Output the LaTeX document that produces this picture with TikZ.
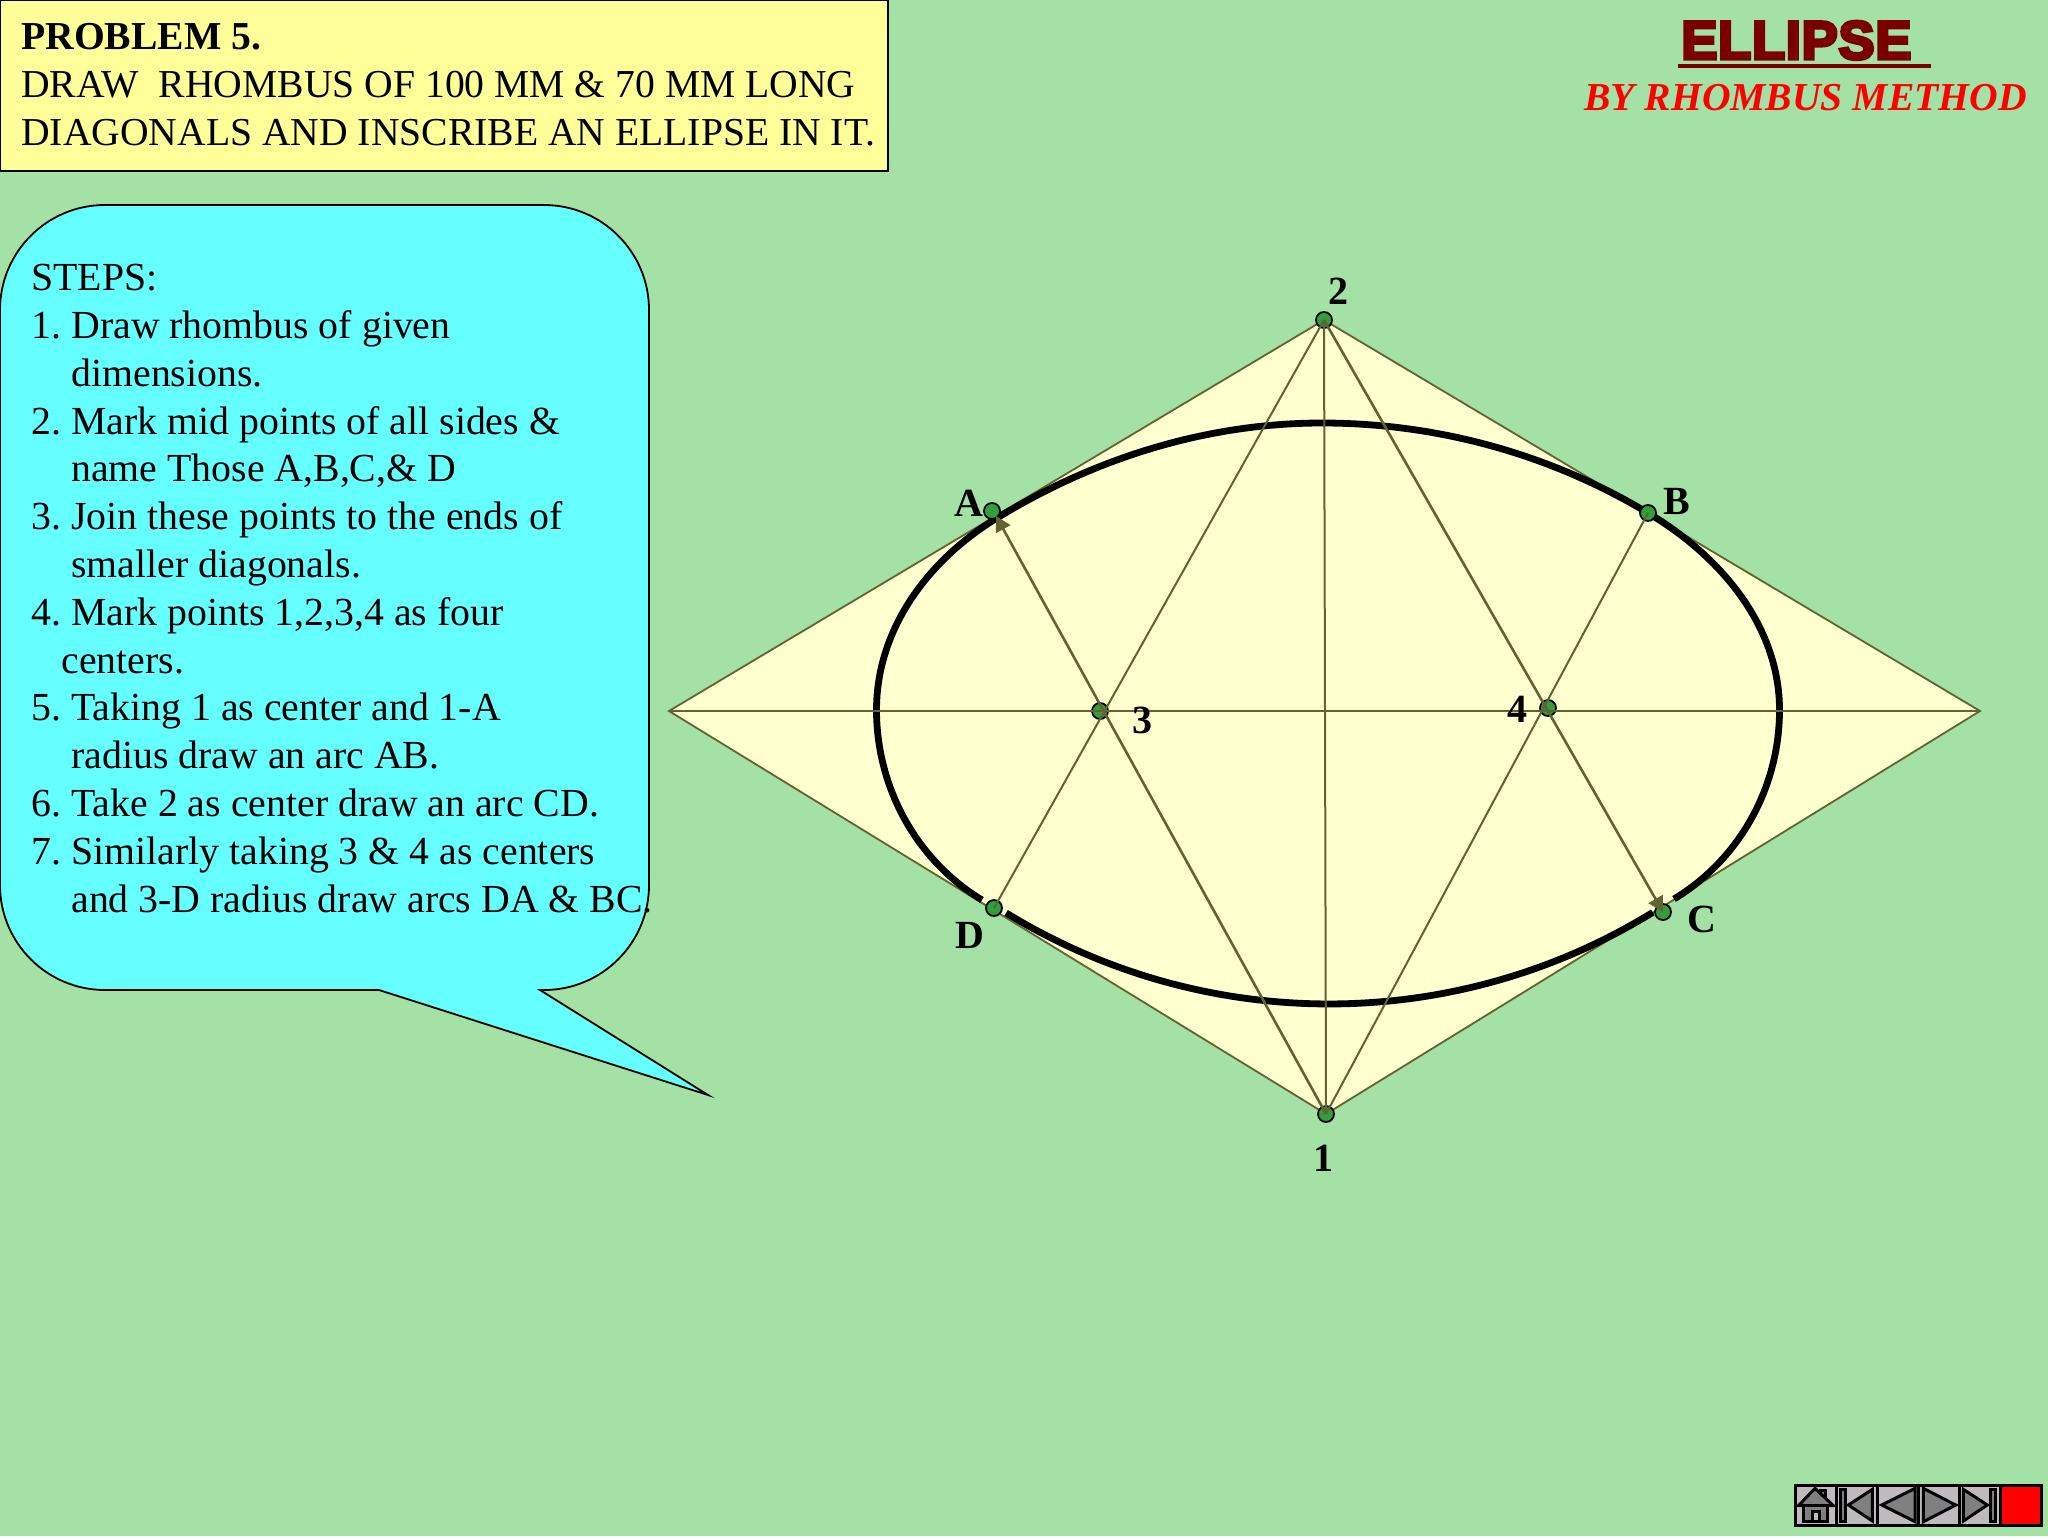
\documentclass[tikz,border=0pt]{standalone}
\usepackage{fontspec}
\setmainfont{Liberation Serif}
\newfontfamily\headsans[FakeBold=6,LetterSpace=1.5]{Liberation Sans Bold}
\usetikzlibrary{arrows.meta}
\definecolor{bgc}{RGB}{163,225,165}
\definecolor{paleY}{RGB}{255,255,208}
\definecolor{titleY}{RGB}{255,255,153}
\definecolor{cyanC}{RGB}{102,255,255}
\definecolor{oliveC}{RGB}{98,98,50}
\definecolor{dotG}{RGB}{51,158,60}
\definecolor{darkR}{RGB}{122,0,0}
\definecolor{btnG}{RGB}{190,186,190}
\definecolor{triG}{RGB}{128,128,128}
\newcommand{\stepnum}[1]{\makebox[20pt][l]{#1}}
\tikzset{
  x=0.5pt,y=0.5pt,
  thinline/.style={draw=oliveC,line width=1pt},
  heavyarc/.style={draw=black,line width=3.4pt},
  ptdot/.style={circle,draw=black,fill=dotG,line width=0.9pt,minimum size=8pt,inner sep=0pt},
  ptlabel/.style={font=\fontsize{20}{24}\selectfont\bfseries,inner sep=0pt},
  tipline/.style={draw=oliveC,line width=1.3pt,-{Triangle[length=7.5pt,width=8pt]}},
  btn/.style={draw=black,fill=btnG,line width=1.5pt},
  btntri/.style={draw=black,fill=triG,line width=1.5pt,line join=miter},
}
\begin{document}
\begin{tikzpicture}
\useasboundingbox (0,0) rectangle (2048,-1536);
\fill[bgc] (0,0) rectangle (2048,-1536);

% title box
\draw[fill=titleY,draw=black,line width=0.9pt] (0,0) rectangle (888,-171);
\node[name=titletext,anchor=north west,align=left,inner sep=0pt,font=\fontsize{19.8}{23.9}\selectfont] at (21,-23)
 {\textbf{PROBLEM 5.}\\DRAW\ \ RHOMBUS OF 100 MM \& 70 MM LONG\\DIAGONALS AND INSCRIBE AN ELLIPSE IN IT.};

% heading
\node[name=headmain,anchor=base west,inner sep=0pt,text=darkR,font=\fontsize{27}{30}\headsans] at (1681,-59) {ELLIPSE};
\draw[darkR,line width=1.6pt] (1678,-66) -- (1931,-66);
\node[name=headsub,anchor=base east,inner sep=0pt,text=red,font=\fontsize{19.8}{24}\selectfont\bfseries\itshape] at (2027,-111) {BY RHOMBUS METHOD};

% callout
\draw[fill=cyanC,draw=black,line width=0.9pt]
  (105,-205) -- (544,-205) arc[start angle=90,end angle=0,radius=105]
  -- (649,-885) arc[start angle=0,end angle=-90,radius=105]
  -- (540,-990) -- (708,-1095) -- (379,-990) -- (105,-990)
  arc[start angle=270,end angle=180,radius=105]
  -- (0,-310) arc[start angle=180,end angle=90,radius=105] -- cycle;
\node[name=steps,anchor=north west,align=left,inner sep=0pt,font=\fontsize{19.9}{23.9}\selectfont] at (31,-264)
 {STEPS:\\
 \stepnum{1.}Draw rhombus of given\\
 \hspace*{20pt}dimensions.\\
 \stepnum{2.}Mark mid points of all sides \&\\
 \hspace*{20pt}name Those A,B,C,\& D\\
 \stepnum{3.}Join these points to the ends of\\
 \hspace*{20pt}smaller diagonals.\\
 \stepnum{4.}Mark points 1,2,3,4 as four\\
 \hspace*{15pt}centers.\\
 \stepnum{5.}Taking 1 as center and 1-A\\
 \hspace*{20pt}radius draw an arc AB.\\
 \stepnum{6.}Take 2 as center draw an arc CD.\\
 \stepnum{7.}Similarly taking 3 \& 4 as centers\\
 \hspace*{20pt}and 3-D radius draw arcs DA \& BC.};

% rhombus
\coordinate (L) at (669,-711);
\coordinate (R) at (1980,-711);
\draw[fill=paleY,draw=oliveC,line width=0.9pt] (L) -- (1324,-320) -- (R) -- (1326,-1114) -- cycle;

% heavy arcs: DA, AB and BC run on as one curve, CD stands apart
\draw[heavyarc] (982,-900)
  .. controls (916,-860) and (876.5,-787) .. (876.5,-710)
  .. controls (876.5,-629) and (928,-560) .. (997,-518)
  .. controls (1095,-458) and (1207,-423) .. (1322,-423)
  .. controls (1437,-423) and (1550,-454) .. (1648,-513)
  .. controls (1720.5,-556) and (1779.5,-626) .. (1779.5,-710)
  .. controls (1779.5,-787) and (1740,-859) .. (1674,-899);
\draw[heavyarc] (1329,-386) ++(238.5:618) arc[start angle=238.5,end angle=301.6,radius=618];

% points
\node[ptdot] (P1) at (1326,-1114) {};
\node[ptdot] (P2) at (1324,-320) {};
\node[ptdot] (P3) at (1100,-711) {};
\node[ptdot] (P4) at (1548,-708) {};
\node[ptdot] (A) at (992,-511) {};
\node[ptdot] (B) at (1648,-513) {};
\node[ptdot] (C) at (1663,-912) {};
\node[ptdot] (D) at (994,-908) {};

% construction lines
\draw[thinline] (L) -- (R);
\draw[thinline] (P1.center) -- (P2.center);
\draw[thinline] (P2.center) -- (D.center);
\draw[thinline] (P1.center) -- (B.center);
\coordinate (Atip) at (996,-516);
\draw[tipline] (P1.center) -- (Atip);
\draw[tipline] (P2.center) -- (C.center);

% labels
\node[ptlabel] (LA) at (969,-503) {A};
\node[ptlabel] (LB) at (1677,-501) {B};
\node[ptlabel] (LC) at (1702,-919) {C};
\node[ptlabel] (LD) at (970,-935) {D};
\node[ptlabel] (L1) at (1323,-1158) {1};
\node[ptlabel] (L2) at (1338,-291) {2};
\node[ptlabel] (L3) at (1142,-720) {3};
\node[ptlabel] (L4) at (1517,-709) {4};

% navigation buttons
\begin{scope}[shift={(1780,-1470)},x=0.16667pt,y=-0.16667pt]
  \draw[btn] (45,45) rectangle (170,167);
  \draw[btn] (170,45) rectangle (292,167);
  \draw[btn] (292,45) rectangle (416,167);
  \draw[btn] (416,45) rectangle (538,167);
  \draw[btn] (538,45) rectangle (660,167);
  \draw[btn,fill=red] (660,45) rectangle (785,167);
  % home
  \draw[btntri] (120,62) rectangle (137,90);
  \draw[btntri] (105,55) -- (160,107) -- (55,107) -- cycle;
  \draw[btntri] (70,107) rectangle (143,153);
  \draw[btntri,fill=btnG] (97,125) rectangle (118,153);
  % first
  \draw[btntri] (182,58) rectangle (197,153);
  \draw[btntri] (205,105) -- (277,58) -- (277,153) -- cycle;
  % previous
  \draw[btntri] (305,105) -- (405,55) -- (405,155) -- cycle;
  % next
  \draw[btntri] (430,55) -- (527,105) -- (430,155) -- cycle;
  % last
  \draw[btntri] (550,58) -- (622,105) -- (550,153) -- cycle;
  \draw[btntri] (632,58) rectangle (647,153);
\end{scope}
\end{tikzpicture}
\end{document}
